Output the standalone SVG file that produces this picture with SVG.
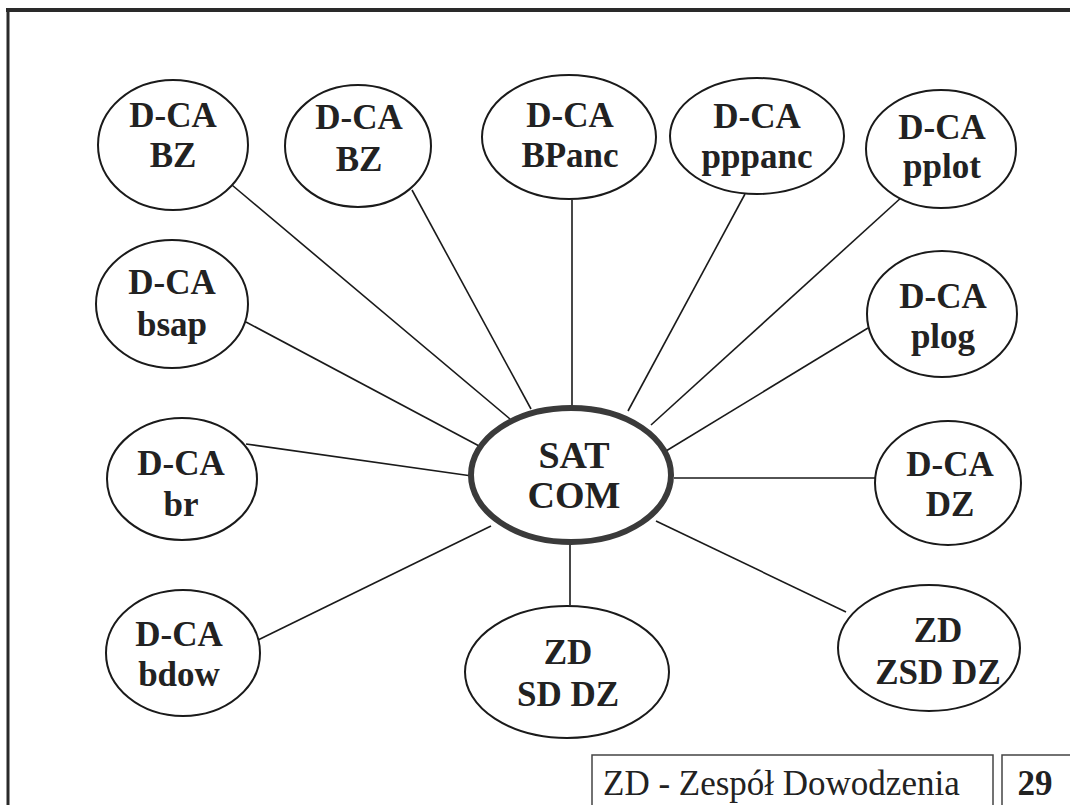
<svg xmlns="http://www.w3.org/2000/svg" width="1070" height="805" viewBox="0 0 1070 805">
  <style>
    .node { fill: #ffffff; stroke: #1a1a1a; stroke-width: 2; }
    .hub { fill: #ffffff; stroke: #3a3a3a; stroke-width: 6; }
    .lbl { font-family: "Liberation Serif", "Times New Roman", serif; font-weight: bold; font-size: 35px; fill: #222222; text-anchor: middle; }
    .big { font-size: 38px; }
    .link { stroke: #1a1a1a; stroke-width: 1.6; fill: none; }
    .foot { font-family: "Liberation Serif", "Times New Roman", serif; font-size: 35px; fill: #222222; }
  </style>
  <rect width="1070" height="805" fill="#ffffff"/>

  <!-- page frame -->
  <g id="frame" fill="none" stroke="#2a2a2a">
    <line x1="6" y1="10" x2="1070" y2="10" stroke-width="4"/>
    <line x1="8" y1="8" x2="8" y2="805" stroke-width="3"/>
  </g>

  <!-- links from the hub to each station -->
  <g id="connectors" class="link">
    <line x1="226" y1="180" x2="510" y2="419"/>
    <line x1="412" y1="190" x2="531" y2="409"/>
    <line x1="572" y1="200" x2="572" y2="407"/>
    <line x1="745" y1="194" x2="628" y2="411"/>
    <line x1="903" y1="196" x2="651" y2="425"/>
    <line x1="868" y1="328" x2="666" y2="451"/>
    <line x1="674" y1="478" x2="875" y2="478"/>
    <line x1="846" y1="612" x2="656" y2="521"/>
    <line x1="570" y1="543" x2="570" y2="605"/>
    <line x1="258" y1="640" x2="491" y2="526"/>
    <line x1="246" y1="444" x2="472" y2="476"/>
    <line x1="246" y1="322" x2="481" y2="447"/>
  </g>

  <g id="hub">
    <ellipse class="hub" cx="571" cy="475" rx="100" ry="67"/>
    <text class="lbl big" x="574" y="468">SAT</text>
    <text class="lbl big" x="574" y="508">COM</text>
  </g>

  <g id="n-bz1">
    <ellipse class="node" cx="173" cy="145" rx="75" ry="65" stroke-width="2.6"/>
    <text class="lbl" x="173" y="127">D-CA</text>
    <text class="lbl" x="173" y="167">BZ</text>
  </g>
  <g id="n-bz2">
    <ellipse class="node" cx="358" cy="146" rx="73" ry="61"/>
    <text class="lbl" x="359" y="129">D-CA</text>
    <text class="lbl" x="359" y="171">BZ</text>
  </g>
  <g id="n-bpanc">
    <ellipse class="node" cx="569" cy="137" rx="87" ry="62"/>
    <text class="lbl" x="570" y="127">D-CA</text>
    <text class="lbl" x="570" y="167">BPanc</text>
  </g>
  <g id="n-pppanc">
    <ellipse class="node" cx="757" cy="136" rx="87" ry="58"/>
    <text class="lbl" x="757" y="128">D-CA</text>
    <text class="lbl" x="757" y="168">pppanc</text>
  </g>
  <g id="n-pplot">
    <ellipse class="node" cx="941" cy="149" rx="75" ry="59"/>
    <text class="lbl" x="942" y="139">D-CA</text>
    <text class="lbl" x="942" y="178">pplot</text>
  </g>
  <g id="n-plog">
    <ellipse class="node" cx="942" cy="314" rx="75" ry="63"/>
    <text class="lbl" x="943" y="308">D-CA</text>
    <text class="lbl" x="943" y="348">plog</text>
  </g>
  <g id="n-dz">
    <ellipse class="node" cx="948" cy="483" rx="73" ry="62"/>
    <text class="lbl" x="950" y="476">D-CA</text>
    <text class="lbl" x="950" y="516">DZ</text>
  </g>
  <g id="n-zsd">
    <ellipse class="node" cx="929" cy="648" rx="91" ry="63"/>
    <text class="lbl" x="938" y="642">ZD</text>
    <text class="lbl" x="938" y="684">ZSD DZ</text>
  </g>
  <g id="n-sd">
    <ellipse class="node" cx="567" cy="672" rx="102" ry="66"/>
    <text class="lbl" x="568" y="664">ZD</text>
    <text class="lbl" x="568" y="706">SD DZ</text>
  </g>
  <g id="n-bdow">
    <ellipse class="node" cx="183" cy="653" rx="77" ry="63"/>
    <text class="lbl" x="179" y="646">D-CA</text>
    <text class="lbl" x="179" y="686">bdow</text>
  </g>
  <g id="n-br">
    <ellipse class="node" cx="182" cy="479" rx="75" ry="61"/>
    <text class="lbl" x="181" y="475">D-CA</text>
    <text class="lbl" x="181" y="516">br</text>
  </g>
  <g id="n-bsap">
    <ellipse class="node" cx="172" cy="304" rx="76" ry="64"/>
    <text class="lbl" x="172" y="294">D-CA</text>
    <text class="lbl" x="172" y="336">bsap</text>
  </g>

  <!-- legend and page number -->
  <g id="legend">
    <rect x="592" y="755" width="401" height="60" fill="none" stroke="#444444" stroke-width="1.5"/>
    <text class="foot" x="603" y="795">ZD - Zespół Dowodzenia</text>
  </g>
  <g id="page-number">
    <rect x="1002" y="755" width="80" height="60" fill="none" stroke="#444444" stroke-width="1.5"/>
    <text class="foot" x="1035" y="795" font-weight="bold" font-size="38" text-anchor="middle">29</text>
  </g>
</svg>
